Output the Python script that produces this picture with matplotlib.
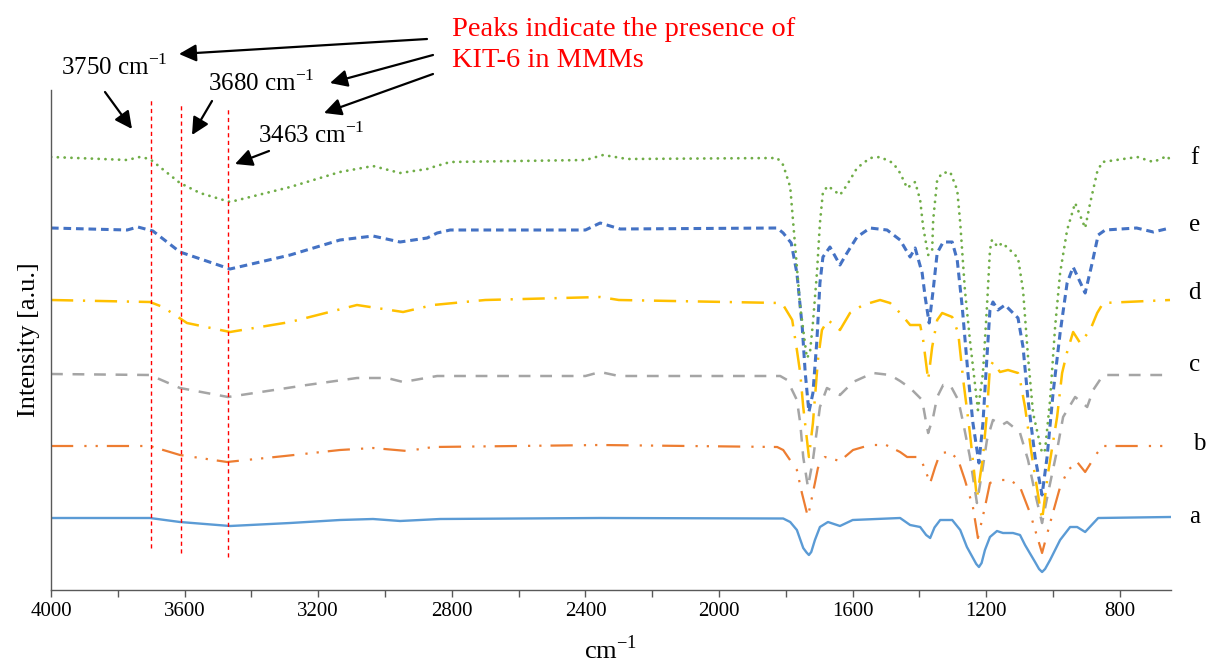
"""
FTIR spectra of the KIT-6 / MMM samples (a-f), stacked with offsets.
Values read off the published figure.
    python plot.py
"""
import matplotlib
matplotlib.use("Agg")
import matplotlib.pyplot as plt
from matplotlib.ticker import MultipleLocator

plt.rcParams["font.family"] = ["Liberation Serif", "DejaVu Serif"]
plt.rcParams["mathtext.fontset"] = "custom"
plt.rcParams["mathtext.rm"] = "Liberation Serif"
plt.rcParams["lines.scale_dashes"] = False

# ---- spectra: wavenumber (cm-1) and stacked intensity (a.u.) ----
wn_a = [4000, 3704, 3614, 3464, 3284, 3135, 3036, 2955, 2835, 2356, 1808, 1787,
        1767, 1748, 1738, 1731, 1724, 1713, 1698, 1674, 1638, 1600, 1458, 1428,
        1398, 1380, 1368, 1355, 1338, 1302, 1278, 1258, 1230, 1222, 1214, 1204,
        1189, 1168, 1150, 1120, 1099, 1084, 1054, 1042, 1033, 1024, 1009, 979,
        949, 928, 904, 865, 650]
int_a = [14.4, 14.4, 13.6, 12.8, 13.4, 14.0, 14.2, 13.8, 14.2, 14.4, 14.3, 13.6,
         12.0, 8.4, 7.5, 7.0, 7.6, 10.0, 12.6, 13.6, 12.8, 14.0, 14.4, 13.0,
         12.6, 11.0, 10.4, 12.5, 14.0, 14.0, 12.0, 8.6, 5.2, 4.6, 5.4, 8.0,
         10.6, 11.8, 11.4, 11.4, 11.0, 9.0, 5.6, 4.2, 3.6, 4.2, 6.0, 10.0,
         12.6, 12.6, 11.6, 14.4, 14.6]

wn_b = [4000, 3704, 3614, 3473, 3300, 3135, 3036, 2934, 2856, 2356, 1826, 1808,
        1767, 1752, 1734, 1713, 1704, 1683, 1638, 1599, 1548, 1500, 1458, 1437,
        1398, 1383, 1368, 1353, 1338, 1308, 1284, 1264, 1240, 1225, 1204, 1189,
        1168, 1129, 1099, 1069, 1033, 1009, 979, 955, 928, 904, 868, 850, 650]
int_b = [28.8, 28.8, 27.0, 25.6, 26.8, 28.0, 28.4, 27.8, 28.6, 29.0, 28.6, 28.0,
         24.0, 19.4, 14.6, 21.4, 24.4, 26.6, 25.8, 28.0, 29.0, 29.0, 27.6, 26.6,
         26.6, 24.0, 21.4, 24.6, 27.4, 27.6, 26.0, 22.0, 16.6, 10.4, 16.6, 21.4,
         22.0, 22.0, 20.6, 15.4, 7.4, 13.4, 20.6, 24.0, 25.6, 23.6, 27.4, 28.8, 28.8]

wn_c = [4000, 3704, 3614, 3470, 3234, 3084, 2994, 2946, 2844, 2400, 2356, 2300,
        1817, 1796, 1767, 1757, 1748, 1734, 1719, 1707, 1698, 1677, 1638, 1599,
        1539, 1488, 1458, 1428, 1392, 1383, 1374, 1359, 1347, 1329, 1308, 1284,
        1269, 1249, 1228, 1213, 1198, 1180, 1153, 1138, 1108, 1099, 1075, 1054,
        1033, 1015, 988, 970, 934, 898, 880, 850, 650]
int_c = [43.2, 43.0, 40.4, 38.6, 41.0, 42.4, 42.4, 41.6, 42.8, 42.8, 43.6, 42.8,
         42.8, 42.0, 38.0, 33.4, 26.6, 20.6, 26.0, 32.0, 36.6, 40.4, 39.0, 41.6,
         43.4, 43.0, 41.8, 40.4, 38.0, 34.6, 31.4, 34.6, 38.6, 41.0, 41.0, 38.0,
         33.4, 26.6, 17.4, 23.4, 30.0, 34.0, 33.0, 33.6, 32.0, 31.4, 26.0, 19.4,
         13.4, 19.4, 28.0, 34.6, 38.6, 36.6, 40.0, 43.0, 43.0]

wn_d = [4000, 3704, 3665, 3593, 3464, 3284, 3084, 2946, 2856, 2700, 2356, 2300,
        1817, 1808, 1781, 1767, 1757, 1748, 1731, 1719, 1704, 1692, 1674, 1638,
        1608, 1569, 1518, 1488, 1458, 1428, 1398, 1389, 1374, 1362, 1347, 1332,
        1302, 1284, 1269, 1249, 1228, 1210, 1198, 1189, 1180, 1159, 1135, 1105,
        1099, 1084, 1063, 1033, 1015, 988, 973, 958, 940, 919, 889, 868, 850, 650]
int_d = [58.0, 57.6, 56.6, 53.4, 51.6, 53.6, 57.0, 55.6, 57.0, 58.0, 58.6, 58.0,
         57.4, 57.0, 54.0, 48.0, 43.4, 36.6, 26.6, 33.4, 46.0, 52.0, 54.0, 52.0,
         55.4, 57.0, 58.0, 57.4, 55.4, 53.0, 53.0, 50.0, 42.0, 48.6, 54.0, 55.4,
         54.6, 51.4, 42.0, 31.4, 18.4, 26.6, 35.4, 44.6, 45.6, 43.6, 44.0, 43.4,
         42.0, 36.6, 26.6, 14.0, 23.4, 34.6, 43.4, 47.6, 51.6, 49.4, 52.0, 55.4,
         57.4, 58.0]

wn_e = [4000, 3772, 3740, 3695, 3614, 3464, 3284, 3135, 3036, 2955, 2874, 2844,
        2805, 2400, 2356, 2296, 1826, 1808, 1784, 1767, 1751, 1742, 1731, 1719,
        1707, 1698, 1689, 1668, 1638, 1617, 1587, 1548, 1497, 1458, 1428, 1413,
        1392, 1383, 1371, 1359, 1347, 1329, 1302, 1287, 1272, 1255, 1240, 1222,
        1210, 1198, 1189, 1180, 1165, 1144, 1120, 1105, 1090, 1075, 1054, 1033,
        1018, 1000, 979, 958, 940, 904, 883, 865, 844, 750, 700, 650]
int_e = [72.4, 72.0, 72.6, 71.8, 67.6, 64.2, 67.0, 70.0, 70.8, 69.6, 70.4, 71.4,
         72.0, 72.0, 73.4, 72.2, 72.4, 71.4, 69.4, 63.4, 52.6, 43.4, 35.6, 39.4,
         50.0, 61.4, 66.6, 68.6, 65.0, 67.4, 70.6, 72.4, 72.0, 70.0, 66.6, 68.4,
         63.4, 58.6, 53.4, 60.0, 67.4, 69.6, 69.6, 66.0, 56.6, 43.4, 33.4, 25.4,
         33.4, 46.6, 56.0, 57.6, 56.0, 57.0, 55.4, 54.4, 48.6, 38.0, 26.6, 19.0,
         26.6, 39.4, 51.4, 61.4, 64.6, 59.4, 65.4, 71.0, 72.0, 72.4, 71.6, 72.4]

wn_f = [4000, 3772, 3734, 3704, 3614, 3554, 3464, 3284, 3135, 3036, 2955, 2874,
        2856, 2805, 2400, 2347, 2275, 1826, 1808, 1787, 1778, 1767, 1757, 1737,
        1728, 1719, 1707, 1698, 1689, 1674, 1638, 1617, 1587, 1548, 1518, 1479,
        1458, 1437, 1413, 1398, 1389, 1374, 1362, 1359, 1347, 1332, 1308, 1287,
        1278, 1264, 1249, 1225, 1210, 1198, 1189, 1183, 1165, 1153, 1135, 1105,
        1090, 1075, 1060, 1033, 1024, 1009, 994, 979, 958, 934, 904, 889, 868,
        853, 748, 700, 658, 650]
int_f = [86.6, 86.0, 86.6, 86.2, 81.4, 79.4, 77.6, 80.6, 83.6, 84.8, 83.4, 84.2,
         84.6, 85.6, 86.0, 87.0, 86.2, 86.4, 85.0, 80.6, 73.4, 64.6, 56.6, 46.4,
         47.4, 53.4, 63.4, 73.4, 79.6, 80.8, 79.0, 81.0, 84.4, 86.4, 86.6, 85.4,
         83.4, 80.4, 81.6, 78.0, 72.6, 67.0, 68.0, 74.0, 82.0, 83.4, 83.6, 80.0,
         73.4, 60.0, 50.0, 36.0, 43.4, 56.6, 68.0, 70.0, 68.6, 69.4, 68.4, 66.4,
         60.0, 46.6, 35.4, 27.4, 28.0, 38.0, 52.6, 63.4, 72.0, 77.4, 72.4, 77.4,
         83.6, 85.6, 86.6, 85.6, 86.8, 86.0]

sample_labels = ["a", "b", "c", "d", "e", "f"]
label_levels = [14.6, 29.2, 45.0, 59.4, 73.0, 86.4]

# KIT-6 marker lines (wavenumber, top, bottom)
marker_wn = [3700, 3610, 3470]
marker_top = [98.4, 97.2, 96.6]
marker_bot = [8.4, 7.4, 6.6]

W, H = 1208, 664
fig = plt.figure(figsize=(W / 100, H / 100), dpi=100)
ax = fig.add_axes([51 / W, 1 - 590 / H, 1120 / W, 500 / H])


def fpx(x, y):
    """top-left pixel -> figure fraction"""
    return x / W, 1 - y / H


DOTS = (0, (0.1, 4.8))
styles = [
    (wn_a, int_a, "#5B9BD5", 1.7, "-"),
    (wn_b, int_b, "#ED7D31", 1.6, (0, (16, 8, 1.6, 6.5, 1.6, 6.5))),
    (wn_c, int_c, "#A5A5A5", 1.8, (0, (8.5, 7))),
    (wn_d, int_d, "#FFC000", 1.8, (0, (16, 7, 1.6, 7))),
    (wn_e, int_e, "#4472C4", 2.2, (0, (5.5, 3.5))),
    (wn_f, int_f, "#70AD47", 2.0, DOTS),
]
for x, y, col, lw, ls in styles:
    ln, = ax.plot(x, y, color=col, lw=lw, ls=ls, solid_joinstyle="round")
    if ls == DOTS:
        ln.set_dash_capstyle("round")

for xw, t, b in zip(marker_wn, marker_top, marker_bot):
    ax.plot([xw, xw], [b, t], color="red", lw=1.0, ls=(0, (3, 2.5)))

ax.set_xlim(4000, 647)
ax.set_ylim(0, 100)
ax.xaxis.set_major_locator(MultipleLocator(400))
ax.xaxis.set_minor_locator(MultipleLocator(200))
ax.tick_params(axis="x", which="both", direction="out", length=5, width=1,
               color="#595959", labelsize=15, pad=4)
ax.set_yticks([])
for s in ["top", "right"]:
    ax.spines[s].set_visible(False)
for s in ["left", "bottom"]:
    ax.spines[s].set_color("#595959")
    ax.spines[s].set_linewidth(1.0)

ax.set_xlabel(r"cm$^{\mathregular{-1}}$", fontsize=19, labelpad=10)
ax.set_ylabel("Intensity [a.u.]", fontsize=19, labelpad=8)

for lab, lev in zip(sample_labels, label_levels):
    ax.text(1.021 if lab != "b" else 1.025, lev, lab, fontsize=18,
            transform=ax.get_yaxis_transform(), ha="center", va="center")

# annotations above the plot
fig.text(*fpx(114, 67), r"3750 cm$^{\mathregular{-1}}$", fontsize=18, ha="center", va="center")
fig.text(*fpx(261, 83), r"3680 cm$^{\mathregular{-1}}$", fontsize=18, ha="center", va="center")
fig.text(*fpx(311, 135), r"3463 cm$^{\mathregular{-1}}$", fontsize=18, ha="center", va="center")
fig.text(*fpx(452, 45), "Peaks indicate the presence of\nKIT-6 in MMMs", fontsize=20.5,
         color="red", ha="left", va="center", linespacing=1.3)

arrows = [((427, 39), (179, 54)), ((433, 55), (330, 83)), ((433, 74), (324, 113)),
          ((105, 92), (132, 129)), ((212, 101), (192, 135)), ((269, 151), (235, 164))]
for (x0, y0), (x1, y1) in arrows:
    fig.add_artist(matplotlib.patches.FancyArrowPatch(
        fpx(x0, y0), fpx(x1, y1), transform=fig.transFigure, arrowstyle="-|>",
        mutation_scale=26, color="black", lw=1.6, shrinkA=0, shrinkB=0))

fig.savefig("out.png", dpi=100)
